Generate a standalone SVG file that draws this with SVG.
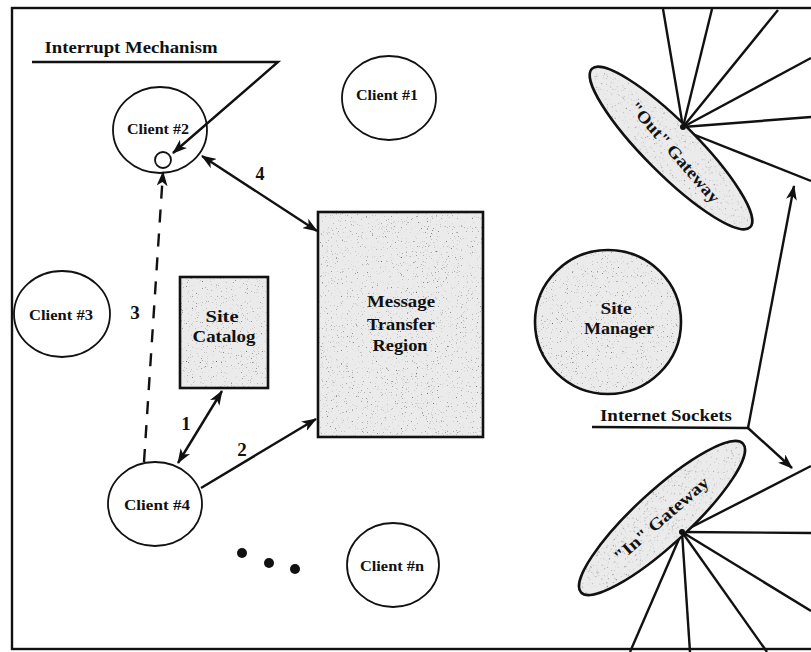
<svg xmlns="http://www.w3.org/2000/svg" width="811" height="652" viewBox="0 0 811 652">
  <defs>
    <!-- speckled grain used for the shaded regions -->
    <filter id="grain" x="0" y="0" width="100%" height="100%" color-interpolation-filters="sRGB">
      <feTurbulence type="fractalNoise" baseFrequency="0.8" numOctaves="2" seed="7" result="noise"/>
      <feColorMatrix in="noise" type="matrix" values="0 0 0 0 0.4  0 0 0 0 0.4  0 0 0 0 0.4  4.5 0 0 0 -2.95" result="specks"/>
      <feComposite in="specks" in2="SourceGraphic" operator="in"/>
    </filter>
    <marker id="head" viewBox="0 0 15 11" refX="14" refY="5.5" markerWidth="15" markerHeight="11" markerUnits="userSpaceOnUse" orient="auto-start-reverse">
      <path d="M0,0 L15,5.5 L0,11 L4,5.5 z" fill="#111"/>
    </marker>
    <style>
      .ln { stroke: #111; stroke-width: 2.4; fill: none; }
      .client { fill: #fff; stroke: #111; stroke-width: 1.8; }
      .fill { fill: #ebebeb; stroke: none; }
      .grain { fill: #000; stroke: none; filter: url(#grain); }
      .edge { fill: none; stroke: #111; stroke-width: 2.6; }
      .lbl { font-family: "Liberation Serif", "Times New Roman", serif; font-weight: bold; fill: #111; text-anchor: middle; }
      .cl { font-size: 15px; }
      .big { font-size: 17px; }
      .num { font-size: 19px; }
    </style>
  </defs>

  <rect width="811" height="652" fill="#fff"/>
  <!-- outer frame -->
  <rect x="12" y="8" width="830" height="641" class="ln" stroke-width="2.6"/>

  <!-- gateway fans -->
  <g id="out-fan">
    <line x1="683" y1="127" x2="663" y2="9" class="ln"/>
    <line x1="683" y1="127" x2="712" y2="9" class="ln"/>
    <line x1="683" y1="127" x2="778" y2="10" class="ln"/>
    <line x1="683" y1="127" x2="811" y2="58" class="ln"/>
    <line x1="683" y1="127" x2="811" y2="117" class="ln"/>
    <line x1="690" y1="133" x2="811" y2="181" class="ln"/>
  </g>
  <g id="in-fan">
    <line x1="682" y1="532" x2="811" y2="466" class="ln"/>
    <line x1="682" y1="532" x2="811" y2="533" class="ln"/>
    <line x1="682" y1="532" x2="811" y2="611" class="ln"/>
    <line x1="682" y1="532" x2="767" y2="652" class="ln"/>
    <line x1="682" y1="532" x2="690" y2="652" class="ln"/>
    <line x1="682" y1="532" x2="630" y2="652" class="ln"/>
  </g>

  <!-- nodes -->
  <g id="client-1">
    <ellipse cx="389" cy="98" rx="47" ry="42" class="client"/>
    <text x="387" y="100" class="lbl cl" textLength="62" lengthAdjust="spacingAndGlyphs">Client #1</text>
  </g>
  <g id="client-2">
    <ellipse cx="160" cy="130" rx="47" ry="43" class="client"/>
    <text x="158" y="134" class="lbl cl" textLength="62" lengthAdjust="spacingAndGlyphs">Client #2</text>
    <circle cx="163" cy="160" r="8" class="client" stroke-width="2.2"/>
  </g>
  <g id="client-3">
    <ellipse cx="62" cy="314" rx="48" ry="43" class="client"/>
    <text x="61" y="320" class="lbl cl" textLength="64" lengthAdjust="spacingAndGlyphs">Client #3</text>
  </g>
  <g id="client-4">
    <ellipse cx="155" cy="504" rx="47" ry="42" class="client"/>
    <text x="157" y="510" class="lbl cl" textLength="66" lengthAdjust="spacingAndGlyphs">Client #4</text>
  </g>
  <g id="client-n">
    <ellipse cx="393" cy="565" rx="46" ry="42" class="client"/>
    <text x="392" y="571" class="lbl cl" textLength="64" lengthAdjust="spacingAndGlyphs">Client #n</text>
  </g>
  <g id="more-clients">
    <circle cx="242" cy="553" r="5" fill="#111"/>
    <circle cx="269" cy="563" r="5" fill="#111"/>
    <circle cx="295" cy="569" r="5" fill="#111"/>
  </g>
  <g id="site-catalog">
    <rect x="180" y="277" width="88" height="111" class="fill"/>
    <rect x="180" y="277" width="88" height="111" class="grain"/>
    <rect x="180" y="277" width="88" height="111" class="edge"/>
    <text x="222" y="322" class="lbl big" textLength="33" lengthAdjust="spacingAndGlyphs">Site</text>
    <text x="224" y="342" class="lbl big" textLength="63" lengthAdjust="spacingAndGlyphs">Catalog</text>
  </g>
  <g id="message-transfer-region">
    <rect x="318" y="212" width="165" height="225" class="fill"/>
    <rect x="318" y="212" width="165" height="225" class="grain"/>
    <rect x="318" y="212" width="165" height="225" class="edge"/>
    <text x="401" y="307" class="lbl big" textLength="68" lengthAdjust="spacingAndGlyphs">Message</text>
    <text x="401" y="330" class="lbl big" textLength="68" lengthAdjust="spacingAndGlyphs">Transfer</text>
    <text x="400" y="351" class="lbl big" textLength="55" lengthAdjust="spacingAndGlyphs">Region</text>
  </g>
  <g id="site-manager">
    <ellipse cx="608" cy="322" rx="73" ry="72" class="fill"/>
    <ellipse cx="608" cy="322" rx="73" ry="72" class="grain"/>
    <ellipse cx="608" cy="322" rx="73" ry="72" class="edge"/>
    <text x="616" y="314" class="lbl" font-size="16" textLength="31" lengthAdjust="spacingAndGlyphs">Site</text>
    <text x="619" y="334" class="lbl" font-size="16" textLength="70" lengthAdjust="spacingAndGlyphs">Manager</text>
  </g>
  <g id="out-gateway">
    <g transform="rotate(45 671 148)">
      <ellipse cx="671" cy="148" rx="112" ry="26" class="fill"/>
      <ellipse cx="671" cy="148" rx="112" ry="26" class="grain"/>
      <ellipse cx="671" cy="148" rx="112" ry="26" class="edge"/>
    </g>
    <text x="675" y="158" transform="rotate(49 675 152)" class="lbl big" textLength="128" lengthAdjust="spacingAndGlyphs">"Out" Gateway</text>
  </g>
  <g id="in-gateway">
    <g transform="rotate(-42.6 662 518)">
      <ellipse cx="662" cy="518" rx="110" ry="27" class="fill"/>
      <ellipse cx="662" cy="518" rx="110" ry="27" class="grain"/>
      <ellipse cx="662" cy="518" rx="110" ry="27" class="edge"/>
    </g>
    <text x="661" y="525" transform="rotate(-41 661 519)" class="lbl big" textLength="120" lengthAdjust="spacingAndGlyphs">"In" Gateway</text>
  </g>

  <!-- fan hubs -->
  <circle cx="683" cy="127" r="3" fill="#111"/>
  <circle cx="682" cy="532" r="3" fill="#111"/>

  <!-- annotations -->
  <g id="interrupt-mechanism">
    <text x="131" y="53" class="lbl" font-size="17" textLength="173" lengthAdjust="spacingAndGlyphs">Interrupt Mechanism</text>
    <polyline points="32,62 278,62 173,153" class="ln" marker-end="url(#head)"/>
  </g>
  <g id="internet-sockets">
    <text x="666" y="421" class="lbl" font-size="16" textLength="132" lengthAdjust="spacingAndGlyphs">Internet Sockets</text>
    <line x1="592" y1="427" x2="748" y2="428" class="ln"/>
    <line x1="748" y1="428" x2="794" y2="186" class="ln" marker-end="url(#head)"/>
    <line x1="748" y1="428" x2="792" y2="468" class="ln" marker-end="url(#head)"/>
  </g>

  <!-- connectors -->
  <g id="connectors">
    <line x1="144" y1="462" x2="163" y2="172" class="ln" stroke-dasharray="13 11" marker-end="url(#head)"/>
    <line x1="222" y1="391" x2="178" y2="463" class="ln" marker-start="url(#head)" marker-end="url(#head)"/>
    <line x1="201" y1="488" x2="316" y2="419" class="ln" marker-end="url(#head)"/>
    <line x1="202" y1="156" x2="317" y2="231" class="ln" marker-start="url(#head)" marker-end="url(#head)"/>
    <text x="135" y="319" class="lbl num">3</text>
    <text x="186" y="430" class="lbl num">1</text>
    <text x="242" y="456" class="lbl num">2</text>
    <text x="260" y="180" class="lbl" font-size="18" font-family="Liberation Sans, Arial, sans-serif">4</text>
  </g>
</svg>
